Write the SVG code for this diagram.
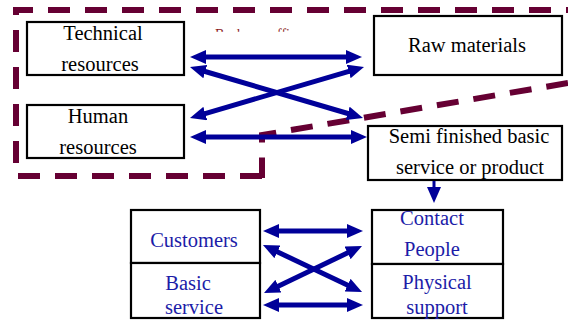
<svg xmlns="http://www.w3.org/2000/svg" width="568" height="320" viewBox="0 0 568 320">
<style>
.box{fill:#fff;stroke:#000;stroke-width:2.2}
.t{font-family:"Liberation Serif","Times New Roman",serif;font-size:20.5px;fill:#000;text-anchor:middle}
.b{font-family:"Liberation Serif","Times New Roman",serif;font-size:20.5px;fill:#1C1CA8;text-anchor:middle}
.arr{stroke:#000099;stroke-width:5;fill:none;marker-start:url(#ah);marker-end:url(#ah)}
.bound{fill:none;stroke:#660033;stroke-width:6;stroke-dasharray:22 15}
</style>
<defs>
<marker id="ah" markerUnits="userSpaceOnUse" viewBox="0 0 16 14" refX="2" refY="7" markerWidth="16" markerHeight="14" orient="auto-start-reverse">
<path d="M0,0 L16,7 L0,14 z" fill="#000099"/>
</marker>
<marker id="ahd" markerUnits="userSpaceOnUse" viewBox="0 0 16 14" refX="2" refY="7" markerWidth="16" markerHeight="14" orient="auto">
<path d="M0,0 L16,7 L0,14 z" fill="#000099"/>
</marker>
<clipPath id="bocl"><rect x="200" y="27.5" width="110" height="4.3"/></clipPath>
</defs>

<g id="back-office">
<path class="bound" d="M568,83 L262,135 L262,178 M262,176 L16,176 L16,10 L568,10"/>
<text clip-path="url(#bocl)" font-family="Liberation Serif, serif" font-size="14" fill="#8B1A1A" y="38.5"><tspan x="215">Back</tspan><tspan x="270">office</tspan></text>
</g>

<g id="technical-resources">
<rect class="box" x="27" y="22" width="157" height="53"/>
<text class="t" x="103" y="40">Technical</text>
<text class="t" x="100" y="71">resources</text>
</g>
<g id="human-resources">
<rect class="box" x="27" y="105" width="157" height="53"/>
<text class="t" x="98" y="123">Human</text>
<text class="t" x="98" y="154">resources</text>
</g>
<g id="raw-materials">
<rect class="box" x="374" y="16" width="188" height="59"/>
<text class="t" x="467" y="52">Raw materials</text>
</g>
<g id="semi-finished">
<rect class="box" x="368" y="126" width="194" height="54"/>
<text class="t" x="469" y="143">Semi finished basic</text>
<text class="t" x="470" y="174">service or product</text>
</g>
<g id="customers">
<rect class="box" x="131" y="210" width="129" height="53"/>
<text class="b" x="194" y="247">Customers</text>
</g>
<g id="basic-service">
<rect class="box" x="131" y="263" width="129" height="55"/>
<text class="b" x="188" y="290">Basic</text>
<text class="b" x="194" y="314">service</text>
</g>
<g id="contact-people">
<rect class="box" x="372" y="210" width="131" height="54"/>
<text class="b" x="432" y="225">Contact</text>
<text class="b" x="432" y="256">People</text>
</g>
<g id="physical-support">
<rect class="box" x="372" y="264" width="131" height="54"/>
<text class="b" x="437" y="289">Physical</text>
<text class="b" x="437" y="314">support</text>
</g>

<g id="connectors">
<line class="arr" x1="204" y1="57" x2="348" y2="57"/>
<line class="arr" x1="203.4" y1="71" x2="349.6" y2="114"/>
<line class="arr" x1="203.4" y1="114.1" x2="350.6" y2="70.9"/>
<line class="arr" x1="204" y1="137" x2="353" y2="137"/>
<line x1="434" y1="181" x2="434" y2="189" stroke="#000099" stroke-width="3" marker-end="url(#ahd)"/>
<line class="arr" x1="277" y1="231" x2="349" y2="231"/>
<line class="arr" x1="275.6" y1="251" x2="349.4" y2="286"/>
<line class="arr" x1="276.6" y1="287" x2="349.4" y2="252"/>
<line class="arr" x1="277" y1="305" x2="349" y2="305"/>
</g>
</svg>
